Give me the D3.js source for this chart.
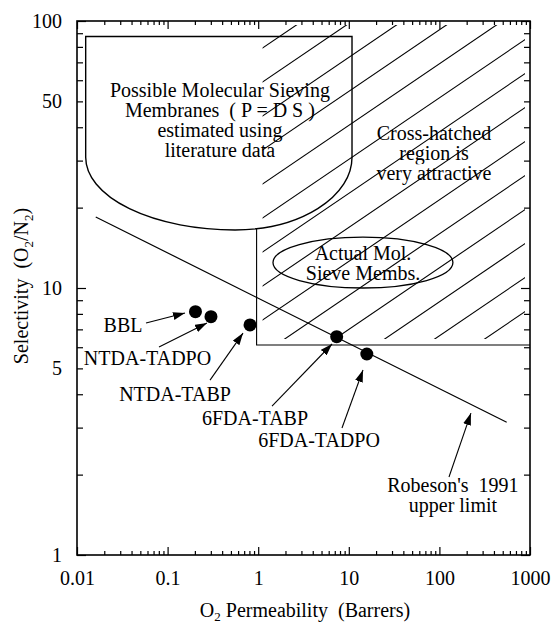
<!DOCTYPE html>
<html>
<head>
<meta charset="utf-8">
<script src="https://cdn.jsdelivr.net/npm/d3@7"></script>
<style>
	body { margin: 0; background: #fff; }
	svg { display: block; }
	svg text { font-family: "Liberation Serif", "Times New Roman", Times, "DejaVu Serif", serif !important; font-size: 20px; fill: #000; }
	.tick line { stroke: #000; stroke-width: 1.2; }
	.axis .domain { display: none; }
</style>
</head>
<body>
<div id="chart"></div>
<script>
// polymer membranes (O2 permeability in Barrers, O2/N2 selectivity)
var polymers = ['BBL', 'NTDA-TADPO', 'NTDA-TABP', '6FDA-TABP', '6FDA-TADPO'];
var permeability = [0.203, 0.301, 0.812, 7.35, 15.8];
var selectivity = [8.15, 7.81, 7.27, 6.57, 5.66];

// label anchors & arrows, in data units
var labelP = [0.0322, 0.060, 0.1207, 0.922, 4.69];
var labelS = [6.84, 5.15, 3.79, 3.07, 2.53];
var arrowFromP = [0.0578, 0.0804, 0.294, 1.42, 8.41];
var arrowFromS = [7.39, 6.01, 4.52, 3.61, 2.99];
var arrowToP = [0.1556, 0.272, 0.680, 6.53, 14.35];
var arrowToS = [8.06, 7.39, 6.78, 6.17, 4.93];

// Robeson 1991 upper bound
var robesonP = [0.0161, 553];
var robesonS = [18.45, 3.14];
var robesonLabelP = 141, robesonLabelS = 1.72;
var robesonArrowP = [127.6, 223];
var robesonArrowS = [1.96, 3.40];

// attractive (hatched) region corner
var attractiveP = [0.96, 1000];
var attractiveS = [6.12, 100];

// molecular sieving box: left x, bottom x, right x / top, shoulder, bottom
var msmP = [0.01247, 0.555, 10.85];
var msmS = [87.5, 30.9, 16.5];
var msmLabelP = 0.378, msmLabelS = 51.9;
var msmLines = ['Possible Molecular Sieving', 'Membranes  ( P = D S )', 'estimated using', 'literature data'];

// actual mol. sieve ellipse
var actualP = [1.456, 141];
var actualS = [10, 15.5];
var actualLabelP = 14.35, actualLabelS = 12.7;
var actualLines = ['Actual Mol.', 'Sieve Membs.'];

var hatchLabelP = 87.1, hatchLabelS = 35.7;
var hatchLines = ['Cross-hatched', 'region is', 'very attractive'];

var xTicks = [0.01, 0.1, 1, 10, 100, 1000];
var xTickLabels = ['0.01', '0.1', '1', '10', '100', '1000'];
var yTicks = [1, 5, 10, 50, 100];
var yTickLabels = ['1', '5', '10', '50', '100'];

var serif = '"Liberation Serif", "Times New Roman", Times, "DejaVu Serif", serif';

var margin = { top: 21, right: 29, bottom: 71, left: 77 };
var width = 559 - margin.left - margin.right;
var height = 626 - margin.top - margin.bottom;

var x = d3.scaleLog().domain([0.01, 1000]).range([0, width]);
var y = d3.scaleLog().domain([1, 100]).range([height, 0]);

function minorValues(lo, hi) {
	var v = [];
	for (var e = lo; e < hi; e++) {
		for (var m = 2; m <= 9; m++) v.push(+(m * Math.pow(10, e)).toPrecision(3));
	}
	return v;
}

var root = d3.select('#chart').append('svg')
	.attr('width', 559)
	.attr('height', 626)
	.attr('font-family', serif)
	.attr('font-size', 20);

var defs = root.append('defs');
defs.append('marker')
	.attr('id', 'head')
	.attr('markerUnits', 'userSpaceOnUse')
	.attr('viewBox', '0 0 12 8')
	.attr('refX', 12)
	.attr('refY', 4)
	.attr('markerWidth', 12)
	.attr('markerHeight', 8)
	.attr('orient', 'auto')
	.append('path')
	.attr('d', 'M0,0 L12,4 L0,8 Z')
	.attr('fill', '#000');

var svg = root.append('g')
	.attr('transform', 'translate(' + margin.left + ',' + margin.top + ')');

// hatched region
var rx0 = x(attractiveP[0]), rx1 = x(attractiveP[1]);
var ry0 = y(attractiveS[1]), ry1 = y(attractiveS[0]);

defs.append('clipPath')
	.attr('id', 'hatch-clip')
	.append('rect')
	.attr('x', margin.left + rx0 + 6)
	.attr('y', margin.top + ry0 + 4)
	.attr('width', rx1 - rx0 - 11)
	.attr('height', ry1 - ry0 - 10);

var hatch = root.append('g').attr('clip-path', 'url(#hatch-clip)')
	.append('g').attr('transform', 'translate(' + margin.left + ',' + margin.top + ')');

var slope = 0.68, gap = 34, phase = 566.6 - margin.top - 0.68 * margin.left;
for (var k = -14; k <= 8; k++) {
	var c = phase + gap * k;
	hatch.append('line')
		.attr('x1', rx0 - 10).attr('y1', c - slope * (rx0 - 10))
		.attr('x2', rx1 + 10).attr('y2', c - slope * (rx1 + 10))
		.attr('stroke', '#000')
		.attr('stroke-width', 1.1);
}

// molecular sieving box
var uxl = x(msmP[0]), uxc = x(msmP[1]), uxr = x(msmP[2]);
var uyt = y(msmS[0]), uys = y(msmS[1]), uyb = y(msmS[2]);
var uPath = 'M' + uxl + ',' + uyt + 'L' + uxr + ',' + uyt + 'L' + uxr + ',' + uys +
	'A' + (uxr - uxc) + ',' + (uyb - uys) + ' 0 0 1 ' + uxc + ',' + uyb +
	'A' + (uxc - uxl) + ',' + (uyb - uys) + ' 0 0 1 ' + uxl + ',' + uys + 'Z';

// white masks over the hatching
svg.append('rect')
	.attr('x', uxl).attr('y', 0)
	.attr('width', uxr - uxl + 6).attr('height', uyt)
	.attr('fill', '#fff');
svg.append('path')
	.attr('d', uPath)
	.attr('fill', '#fff')
	.attr('stroke', '#fff')
	.attr('stroke-width', 14);

var ecx = (x(actualP[0]) + x(actualP[1])) / 2, ecy = (y(actualS[0]) + y(actualS[1])) / 2;
var erx = (x(actualP[1]) - x(actualP[0])) / 2, ery = (y(actualS[0]) - y(actualS[1])) / 2;

svg.append('ellipse')
	.attr('cx', ecx).attr('cy', ecy)
	.attr('rx', erx).attr('ry', ery)
	.attr('fill', '#fff')
	.attr('stroke', '#fff')
	.attr('stroke-width', 12);

// region boundary
var vTop = uys + (uyb - uys) * Math.sqrt(Math.max(0, 1 - Math.pow((rx0 - uxc) / (uxr - uxc), 2)));
svg.append('path')
	.attr('d', 'M' + rx0 + ',' + vTop + 'L' + rx0 + ',' + ry1 + 'L' + rx1 + ',' + ry1)
	.attr('fill', 'none')
	.attr('stroke', '#000')
	.attr('stroke-width', 1.1);

svg.append('path')
	.attr('d', uPath)
	.attr('fill', 'none')
	.attr('stroke', '#000')
	.attr('stroke-width', 1.4);

svg.append('ellipse')
	.attr('cx', ecx).attr('cy', ecy)
	.attr('rx', erx).attr('ry', ery)
	.attr('fill', 'none')
	.attr('stroke', '#000')
	.attr('stroke-width', 1.3);

// Robeson line
svg.append('line')
	.attr('x1', x(robesonP[0])).attr('y1', y(robesonS[0]))
	.attr('x2', x(robesonP[1])).attr('y2', y(robesonS[1]))
	.attr('stroke', '#000')
	.attr('stroke-width', 1.2);

// points
svg.selectAll('.dot')
	.data(polymers)
	.enter().append('circle')
	.attr('class', 'dot')
	.attr('cx', function(d, i) { return x(permeability[i]); })
	.attr('cy', function(d, i) { return y(selectivity[i]); })
	.attr('r', 6.5)
	.attr('fill', '#000');

// arrows
function arrow(p0, s0, p1, s1) {
	svg.append('line')
		.attr('x1', x(p0)).attr('y1', y(s0))
		.attr('x2', x(p1)).attr('y2', y(s1))
		.attr('stroke', '#000')
		.attr('stroke-width', 1.1)
		.attr('marker-end', 'url(#head)');
}
polymers.forEach(function(d, i) {
	arrow(arrowFromP[i], arrowFromS[i], arrowToP[i], arrowToS[i]);
	svg.append('text')
		.attr('x', x(labelP[i]))
		.attr('y', y(labelS[i]))
		.attr('text-anchor', 'middle')
		.text(d);
});
arrow(robesonArrowP[0], robesonArrowS[0], robesonArrowP[1], robesonArrowS[1]);

// multi-line labels
function block(lines, p, s, halo) {
	var t = svg.append('text')
		.attr('x', x(p))
		.attr('y', y(s))
		.attr('text-anchor', 'middle');
	if (halo) {
		t.attr('stroke', '#fff').attr('stroke-width', 12).attr('paint-order', 'stroke').attr('stroke-linejoin', 'round');
	}
	lines.forEach(function(l, i) {
		t.append('tspan')
			.attr('x', x(p))
			.attr('dy', i === 0 ? 0 : 20)
			.style('white-space', 'pre')
			.text(l);
	});
}
block(msmLines, msmLabelP, msmLabelS, false);
block(hatchLines, hatchLabelP, hatchLabelS, true);
block(actualLines, actualLabelP, actualLabelS, false);
block(["Robeson's  1991", 'upper limit'], robesonLabelP, robesonLabelS, false);

// axes
svg.append('g').attr('class', 'axis')
	.attr('transform', 'translate(0,' + height + ')')
	.call(d3.axisBottom(x).tickValues(minorValues(-2, 3)).tickSize(-4).tickFormat(''));
svg.append('g').attr('class', 'axis')
	.attr('transform', 'translate(0,' + height + ')')
	.call(d3.axisBottom(x).tickValues(xTicks).tickSize(-8).tickPadding(16)
		.tickFormat(function(d, i) { return xTickLabels[i]; }));
svg.append('g').attr('class', 'axis')
	.call(d3.axisTop(x).tickValues(minorValues(-2, 3)).tickSize(-4).tickFormat(''));
svg.append('g').attr('class', 'axis')
	.call(d3.axisTop(x).tickValues(xTicks).tickSize(-8).tickFormat(''));

var yMinor = minorValues(0, 2).concat([5, 50]).filter(function(v, i, a) { return a.indexOf(v) === i; });
svg.append('g').attr('class', 'axis')
	.call(d3.axisLeft(y).tickValues(yMinor).tickSize(-6).tickFormat(''));
svg.append('g').attr('class', 'axis')
	.call(d3.axisLeft(y).tickValues(yTicks).tickSize(0).tickPadding(15)
		.tickFormat(function(d, i) { return yTickLabels[i]; }));
svg.append('g').attr('class', 'axis')
	.call(d3.axisLeft(y).tickValues([1, 10, 100]).tickSize(-9).tickFormat(''));
svg.append('g').attr('class', 'axis')
	.attr('transform', 'translate(' + width + ',0)')
	.call(d3.axisRight(y).tickValues(yMinor).tickSize(-6).tickFormat(''));
svg.append('g').attr('class', 'axis')
	.attr('transform', 'translate(' + width + ',0)')
	.call(d3.axisRight(y).tickValues([1, 10, 100]).tickSize(-9).tickFormat(''));

// d3 axes set their own font, put the serif one back
svg.selectAll('.axis').attr('font-family', serif).attr('font-size', 20);

svg.append('rect')
	.attr('width', width)
	.attr('height', height)
	.attr('fill', 'none')
	.attr('stroke', '#000')
	.attr('stroke-width', 1.6);

// axis titles
var xt = svg.append('text')
	.attr('x', 228)
	.attr('y', height + 62)
	.attr('text-anchor', 'middle')
	.style('white-space', 'pre');
xt.append('tspan').text('O');
xt.append('tspan').attr('dy', 4).style('font-size', '13px').text('2');
xt.append('tspan').attr('dy', -4).text(' Permeability  (Barrers)');

var yt = svg.append('text')
	.attr('transform', 'translate(-49,265) rotate(-90)')
	.attr('text-anchor', 'middle')
	.style('white-space', 'pre');
yt.append('tspan').text('Selectivity  (O');
yt.append('tspan').attr('dy', 5).style('font-size', '13px').text('2');
yt.append('tspan').attr('dy', -5).text('/N');
yt.append('tspan').attr('dy', 5).style('font-size', '13px').text('2');
yt.append('tspan').attr('dy', -5).text(')');
</script>
</body>
</html>
